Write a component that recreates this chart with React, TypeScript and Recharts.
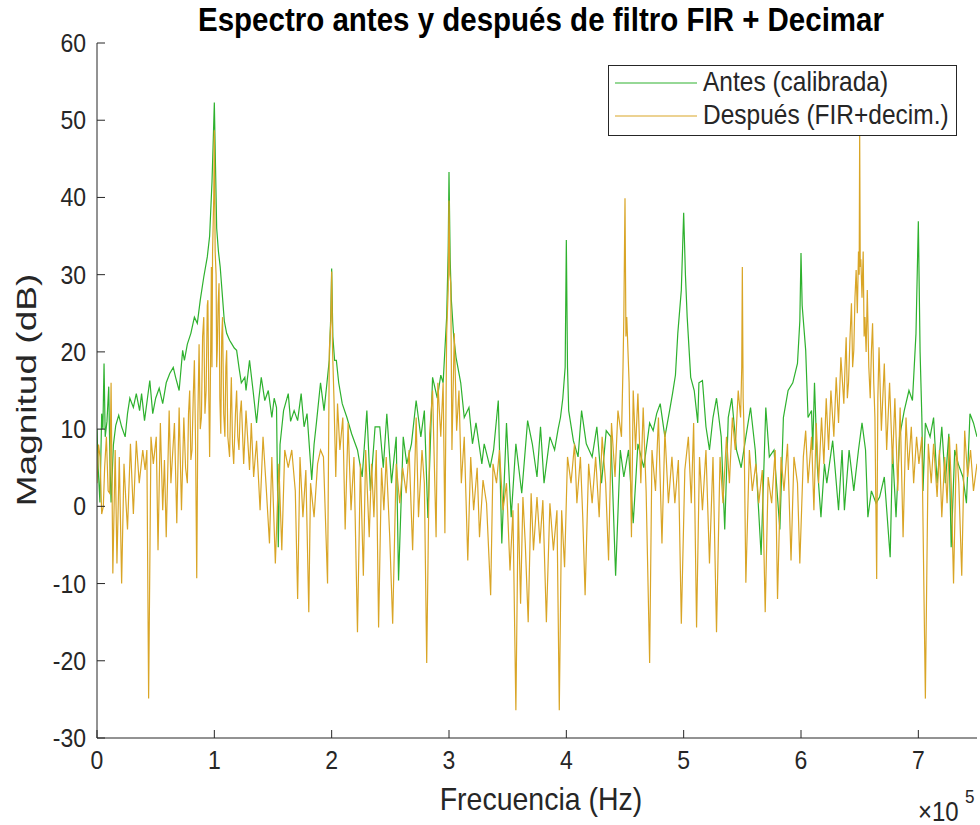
import { LineChart, Line, XAxis, YAxis } from 'recharts';

// frecuencia en kHz, magnitud en dB
const xTicks = [0, 100, 200, 300, 400, 500, 600, 700];
const yTicks = [-30, -20, -10, 0, 10, 20, 30, 40, 50, 60];

const antes: [number, number][] = [
  [0, 10], [1, 5], [2.5, 0.5], [4, 12], [5, 10], [6, 18.5], [7, 9], [8.5, 11], [10, 15.5], [11, 6],
  [12, 0.5], [14, 8], [16, 10.5], [18.5, 11.8], [21, 10.3], [24, 9], [26, 12], [28, 14], [31, 12.8], [33.5, 14.6],
  [36.3, 12.4], [38, 14.6], [40.5, 11.1], [43, 14], [45, 16.3], [47.5, 12], [50, 14], [53, 15.3], [56, 13.3], [59, 16],
  [62, 17.2], [65, 18], [67, 16.7], [70, 15], [73, 20.2], [74.5, 18.9], [77, 21], [80, 22.4], [83, 24.5], [85.5, 23.7],
  [88, 26.7], [91, 29.7], [94, 32.3], [96, 35], [98, 42], [99, 47], [100, 52.3], [101, 44], [102, 36], [103.5, 33],
  [105, 31], [107, 27], [108.5, 24], [110.5, 22.4], [113, 21.5], [115, 21], [117, 20.5], [119, 20.2], [121, 18], [123, 16],
  [126, 16.7], [127, 15], [130, 18.9], [133, 15], [136, 10.8], [138, 14], [140, 16.7], [143, 13.7], [146, 15], [149, 11.5],
  [151, 14], [153, 12.8], [154.5, -5.3], [156, 8], [159, 12.4], [163, 14.6], [165, 11], [168, 12.4], [171, 11.1], [174, 14.6],
  [176.5, 10.3], [179, 12], [183, 3.4], [185, 8], [187, 10.8], [190.5, 16], [193.5, 12.4], [196, 16], [198, 19], [199.3, 25],
  [200, 30.8], [201, 22], [202.5, 18.9], [204, 18.9], [206, 16], [209, 13.3], [213, 11.5], [217, 9.4], [222, 7.3], [226, 3.8],
  [230, 12.4], [233, 2], [237, 10.3], [241, 10.3], [244, 5], [247, 12], [251, 3], [255, 9], [257, -9.6], [261, 9],
  [264, 5.5], [268, 8.1], [272, 13.7], [276, 9], [279, 12.4], [282, -1.5], [286, 16.7], [290, 14], [293, 17], [295, 16],
  [298, 24.5], [299.3, 33], [300, 43.3], [301, 32], [302, 26.7], [304, 22], [306, 19.3], [310, 16], [313, 11.5], [317, 12.8],
  [320, 8.1], [323, 10.8], [328, 5.5], [330, 8.1], [335, 5], [338, 7.3], [342, 13.7], [345, -4.8], [349, 10.8], [353, -1.4],
  [357, 8.1], [362, 1.7], [367, 11.1], [371, 8.1], [375, 3.8], [378, 10.3], [381, 3], [386, 9], [390, 7.3], [393, 10],
  [395, 11.5], [397, 14], [399, 18], [400, 34.5], [401, 18], [402, 12.4], [406, 8.5], [410, 6.4], [413, 12.4], [417, 8.1],
  [422, 6.4], [426, 10.3], [430, 3], [434, 9.8], [438, 9], [442, -9], [446, 7.3], [449, 3.8], [453, 7.3], [457, -2.2],
  [461, 8.1], [466, 5], [471, 10.8], [474, 9.8], [477, 12], [480, 13.3], [484, 9], [488, 12.4], [490.5, 14.6], [493, 17],
  [495, 22.4], [498, 28], [500, 38], [501.5, 30], [503, 24.5], [506, 16.7], [509, 15], [512, 10.8], [513, 16], [516, 16.3],
  [519, 10.3], [522, 7.3], [525, 11.5], [528, 14], [532, 9], [535, -3], [538, 11.5], [541, 14], [545, 7.3], [549, 5],
  [553, 9], [557, 12.8], [561, 7.3], [566, -6.3], [570, 12.8], [573, 6.4], [577, 7.3], [582, -3], [585, 11.5], [589, 15],
  [593, 16], [597, 18.5], [599, 24], [600, 32.8], [601, 26], [604, 20.2], [606, 11.5], [609, 12.4], [610, 7.3], [611.5, 16],
  [614, 5], [617, -1.4], [620, 5.5], [622, 3], [627, 8.5], [629, 5], [632, -0.5], [635, 7.3], [637, -0.5], [641, 7.3],
  [645, 2], [649, 7.3], [652, 10.8], [655, 7.3], [657, -1.4], [660, 2], [664, 0.4], [667, 1.2], [671, 3.8], [676, -6.6],
  [678, 7.3], [681, -1.4], [684, 9], [688, 12.4], [692, 15], [695, 13.7], [698, 22.4], [700, 36.9], [701.5, 20], [703, 11.5],
  [704, 2], [706, 10.8], [710, 9], [713, 11.5], [716, 3], [720, 10.3], [723, 3], [726, 9.4], [728, -5.3], [731, 7.3],
  [734, 5.5], [738, 3.8], [741, 0.4], [744, 12], [747, 10.8], [750, 9],
];

const despues: [number, number][] = [
  [0, 3], [1.3, 8], [2.6, 6.4], [4, -1], [5.4, 0], [6.5, 5], [8, 9], [9.5, 2], [10.8, 1.7], [12, 16],
  [13.5, -8.7], [15.5, 7.3], [17, -7.4], [19, 6.4], [21, -10], [23, 5.5], [24.5, 1], [26, -3], [28.5, 8.1], [31, -1],
  [33.5, 8.5], [36, 3], [39, 7.3], [41, 4.7], [42.5, 7.3], [44, -24.9], [46, 9], [48, 5.5], [50.5, 9], [52, -5.7],
  [54, 10.8], [56, -0.5], [57.5, 6], [59, -4], [61.5, 12.4], [63, 3], [66, 10.8], [68, -2.2], [70, 12.8], [72, -0.5],
  [74, 11.5], [75.5, 5], [77, 3], [78, 12], [79, 15], [80, 6], [81, 7.3], [82, 14], [83, 18.9], [84, 8],
  [85, -9.3], [86, 12], [87, 21], [88, 10], [89, 11.5], [90, 22], [91, 24.5], [92, 12], [93, 15], [94, 26],
  [94.5, 26.7], [95.3, 14], [96, 6.4], [97, 22], [97.5, 31], [98, 18], [98.5, 33], [99.5, 40], [100, 48.7], [100.7, 33],
  [101.5, 30], [102, 18], [102.5, 20.2], [103.2, 26], [104, 28.9], [104.7, 14], [105.5, 9.4], [106.3, 22], [107, 24.5], [108, 12],
  [109, 9], [109.8, 18], [110.5, 20.2], [111.5, 9], [113, 6.4], [114, 14], [114.5, 16.7], [115.5, 8], [116.5, 5.5], [118, 12],
  [119, 15], [120, 9], [121, 7.3], [122, 12], [123, 13.7], [125, 5.5], [127, 12.4], [130, 4.7], [131.5, 10.8], [133.5, 3.8],
  [136, 8.5], [139, -0.5], [141.5, 9], [144, 3], [147, -4.8], [149, 6.4], [152, -7.4], [155, 5.5], [157.5, -5.7], [160, 7.3],
  [163, 5], [166, 7.3], [169, 2], [171, -12], [173, 6.4], [175.5, -1.4], [178, 4.7], [180.5, -13.7], [182, 3], [185, -1.4],
  [188, 5.5], [190.5, 7.3], [193, 6.4], [196.5, -10], [198, 20.2], [199.3, 24], [200, 30.4], [200.8, 20], [202, 13.7], [203.5, 3.8],
  [205, 13.3], [207, 7.3], [209.5, 11.5], [211.5, -3], [214, 10.8], [216.5, -0.5], [219, 6.4], [222, -16.3], [224.5, 5.5], [227, -9],
  [229, 7.3], [232, -4], [234, 5.5], [236, -1.4], [238, 7.3], [240, -15.7], [242.5, 5], [244.5, -0.5], [246.5, 6.4], [249.5, -4],
  [252, -15.2], [255, 5.5], [258, 0.4], [260.5, 5], [263.5, 1.7], [266, 7.3], [269, -5.7], [272, 11.5], [274, -1.4], [277, 7.3],
  [279, 3], [281, -20.3], [283.5, 9.4], [286, 15], [289, -4], [290.5, 16], [293, 9], [295, 16], [296.5, -3.5], [298, 22.4],
  [299.3, 28], [300, 39.6], [300.7, 30], [301.5, 28.9], [302.5, 7.3], [304.5, 22.4], [306.5, 9.8], [308.5, 15], [310.5, 3], [313, 9],
  [316, -7], [318.5, 6.4], [321, -0.5], [324, 5], [326, -4], [329, 3.4], [332, 0.4], [335.5, -11.5], [337.5, 5.5], [340.5, 3],
  [343, 7.3], [346, -0.5], [349, 3], [352, -8.3], [354.5, -0.5], [357, -26.4], [359, 0.4], [361, -12.6], [363, 1.2], [365, -4.8],
  [367.5, -15], [370, 1.7], [372, -5.7], [375, 1.2], [377.5, -4.8], [380, 0.8], [383, -15], [386, 0.4], [389, -5.7], [392, -0.5],
  [394, -26.4], [396, -0.5], [398.5, -7.9], [401, 6.4], [404, 3], [407, 8.1], [409, 0.4], [412, 6.4], [414, -1.4], [416, -11.5],
  [419, 5.5], [422, 0.4], [425, 6.4], [428, -1.4], [430.5, 9], [433.5, 3], [436, -7], [438.5, 10.8], [441.5, 3.8], [444, 12.4],
  [447, 9], [448.3, 18], [449, 24.5], [450, 39.9], [450.8, 22], [451.5, 24.5], [453.5, 16], [455.5, -4], [457, 15], [459, 7.3],
  [461, 14.6], [463.5, 3], [465.5, 12.8], [468, 2], [471, -20.3], [473, 7.3], [476, 2], [478.5, 11.5], [481.5, -4.8], [484, 9.8],
  [487, 0.4], [490, 6.4], [492.5, 0.4], [495.5, 6], [498, -15.2], [501, 4.7], [504, 9], [506.5, 0.4], [508.5, 10.8], [511, -15.7],
  [513.5, 6.4], [516, -0.5], [519, 7.3], [522, -7.4], [525, 6.4], [528, -16.3], [531, 6.4], [533.5, 0.4], [536.5, 9], [539, 3],
  [541.5, 11.5], [544, 7.3], [546.5, 15], [548.5, 11.5], [549.5, 18], [550, 31], [550.7, 14], [551.5, 9.4], [553, -9.9], [556, 7.3],
  [558.5, 2], [561.5, 5.5], [564, 0.4], [567, 4.7], [569.5, -13.7], [572, 3.8], [575, 0.4], [578, 7.3], [580, -12], [583, 6.4],
  [585.5, 2], [588.5, 8.1], [591.5, -7], [594, 6.4], [597, 3], [599, -7.4], [602, 6.4], [604, 9.8], [606, 3], [609, 9],
  [611, -0.5], [613, 10.8], [615, 3], [617.5, 11.5], [619.5, 5.5], [621.5, 14], [623.5, 7.3], [625.5, 15], [628, 9], [630, 16.7],
  [632, 10.8], [634, 19.3], [636.5, 13.3], [637.5, 18], [638.5, 21.9], [639.5, 14], [640.5, 16], [641.8, 22], [643, 26.3], [644, 18],
  [645, 20.2], [646, 27], [647, 30.6], [648, 25], [649, 33], [649.6, 30], [650, 48.7], [650.5, 31], [651, 32], [652, 27],
  [653, 33], [653.8, 22], [654.5, 24.5], [655.5, 20], [656.5, 28], [657.8, 18], [659, 14], [660, 20], [661, 23.7], [662, 16],
  [663, 11.5], [664.5, -9.4], [665.5, 14], [666.5, 20.6], [668.5, 9.8], [671, 18.5], [673, 7.3], [675.5, 16], [678, 5.5], [680, 14],
  [682.5, 2], [684.5, 12.8], [687, -4], [689.5, 11.5], [691.5, 4.7], [694, 10.3], [696, 3], [698.5, 9], [700.5, 5.5], [703, 9],
  [706, -24.9], [708.5, 8.1], [711, 3], [713, 8.1], [716, 1.2], [718, 7.3], [720, -1.4], [722.5, 6.4], [724.5, 0.4], [726.5, 9],
  [728, 3], [730, -10], [732.5, 8.1], [734.5, 3], [737, -9], [739.5, 9.8], [742, 3.8], [744.5, 7.3], [747, 2], [750, 5.5],
];

const series = [
  { name: 'Antes (calibrada)', color: '#2eb12e', points: antes },
  { name: 'Después (FIR+decim.)', color: '#d9a526', points: despues },
];

const FONT = '"Liberation Sans", Arial, Helvetica, sans-serif';
const INK = '#262626';
// the figure is a bit taller than it is wide, text looks stretched vertically
const STRETCH = 1.12;

const XTick = ({ x, y, payload }: any) => (
  <text
    transform={`translate(${x},${y + 17}) scale(1,${STRETCH})`}
    textAnchor="middle"
    fontFamily={FONT}
    fontSize={23}
    fill={INK}
  >
    {payload.value / 100}
  </text>
);

const YTick = ({ x, y, payload }: any) => (
  <text
    transform={`translate(${x},${y + 9}) scale(1,${STRETCH})`}
    textAnchor="end"
    fontFamily={FONT}
    fontSize={23}
    fill={INK}
  >
    {payload.value}
  </text>
);

export default function App() {
  return (
    <div style={{ position: 'absolute', left: 0, top: 0, width: 980, height: 825, background: '#fff' }}>
      <LineChart width={980} height={825} margin={{ top: 43, right: 3, bottom: 47, left: 0 }}>
        <XAxis
          xAxisId="b"
          dataKey="f"
          type="number"
          domain={[0, 750]}
          ticks={xTicks}
          allowDataOverflow
          height={40}
          tickSize={-8}
          tickMargin={22}
          stroke={INK}
          tick={<XTick />}
        />
        <XAxis
          xAxisId="t"
          orientation="top"
          type="number"
          domain={[0, 750]}
          ticks={xTicks}
          allowDataOverflow
          height={0}
          tickSize={-8}
          stroke={INK}
          tick={false}
        />
        <YAxis
          yAxisId="l"
          type="number"
          domain={[-30, 60]}
          ticks={yTicks}
          allowDataOverflow
          width={97}
          tickSize={-8}
          tickMargin={19}
          stroke={INK}
          tick={<YTick />}
        />
        <YAxis
          yAxisId="r"
          orientation="right"
          type="number"
          domain={[-30, 60]}
          ticks={yTicks}
          allowDataOverflow
          width={0}
          tickSize={-8}
          stroke={INK}
          tick={false}
        />
        {series.map((s) => (
          <Line
            key={s.name}
            xAxisId="b"
            yAxisId="l"
            data={s.points.map(([f, db]) => ({ f, db }))}
            dataKey="db"
            name={s.name}
            type="linear"
            stroke={s.color}
            strokeWidth={1.2}
            dot={false}
            activeDot={false}
            isAnimationActive={false}
          />
        ))}
      </LineChart>

      <svg
        width={980}
        height={825}
        style={{ position: 'absolute', left: 0, top: 0, pointerEvents: 'none' }}
        fontFamily={FONT}
        fill={INK}
      >
        <text
          transform={`translate(541,31) scale(1,${STRETCH})`}
          textAnchor="middle"
          fontSize={29.5}
          fontWeight="bold"
          fill="#000"
        >
          Espectro antes y después de filtro FIR + Decimar
        </text>
        <text transform={`translate(541,810) scale(1,${STRETCH})`} textAnchor="middle" fontSize={28.5}>
          Frecuencia (Hz)
        </text>
        <text transform="translate(36,390) rotate(-90) scale(1.3,1)" textAnchor="middle" fontSize={28.5}>
          Magnitud (dB)
        </text>
        <text transform={`translate(918,821) scale(1,${STRETCH})`} fontSize={24}>×10</text>
        <text transform={`translate(965,803) scale(1,${STRETCH})`} fontSize={17}>5</text>

        <rect x={608.5} y={65.5} width={348} height={70} fill="#fff" stroke={INK} strokeWidth={1} />
        {series.map((s, i) => (
          <g key={s.name}>
            <line x1={615} x2={697} y1={83 + i * 33} y2={83 + i * 33} stroke={s.color} strokeWidth={1.2} />
            <text transform={`translate(703,${91 + i * 33}) scale(1,${STRETCH})`} fontSize={24.5}>
              {s.name}
            </text>
          </g>
        ))}
      </svg>
    </div>
  );
}
